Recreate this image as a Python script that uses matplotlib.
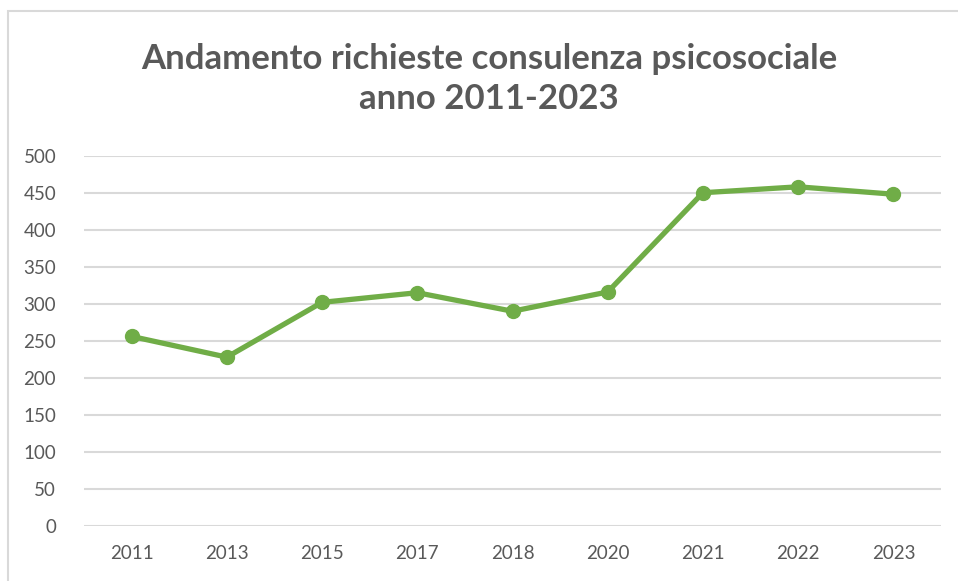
import matplotlib
matplotlib.use("Agg")
import matplotlib.pyplot as plt
from matplotlib.patches import Rectangle

years = ["2011", "2013", "2015", "2017", "2018", "2020", "2021", "2022", "2023"]
values = [256, 228, 302, 315, 290, 316, 450, 458, 448]
yticks = [0, 50, 100, 150, 200, 250, 300, 350, 400, 450, 500]
title = "Andamento richieste consulenza psicosociale\nanno 2011-2023"

plt.rcParams['font.family'] = ['Lato', 'DejaVu Sans']
W, H = 958, 581
fig = plt.figure(figsize=(W / 100, H / 100), dpi=100)
fig.patch.set_facecolor("white")

# outer chart border (cropped at right and bottom)
fig.patches.append(Rectangle((8 / W, -0.05), 1.2, 1 - 11 / H + 0.05,
                             transform=fig.transFigure, fill=False,
                             edgecolor="#D9D9D9", linewidth=1.5))

left, right = 84 / W, 941 / W
bottom, top = 1 - 526 / H, 1 - 155.7 / H
ax = fig.add_axes([left, bottom, right - left, top - bottom])

x = list(range(len(years)))
ax.plot(x, values, color="#70AD47", linewidth=3.8, marker="o",
        markersize=10, solid_capstyle="round", solid_joinstyle="round", zorder=3)

ax.set_xlim(-0.5, len(years) - 0.5)
ax.set_ylim(0, 500)
ax.set_yticks(yticks)
ax.set_xticks(x)
ax.set_xticklabels(years)
ax.tick_params(axis="both", length=0, labelsize=13.5, labelcolor="#595959")
ax.tick_params(axis="y", pad=20)
ax.tick_params(axis="x", pad=14)
ax.grid(axis="y", color="#D9D9D9", linewidth=1.5)
ax.set_axisbelow(True)
for s in ["top", "right", "left", "bottom"]:
    ax.spines[s].set_visible(False)

fig.text(489 / W, 1 - 79 / H, title, ha="center", va="center",
         fontsize=25, fontweight="bold", color="#595959", linespacing=1.32)

fig.savefig("out.png", dpi=100, facecolor="white")
